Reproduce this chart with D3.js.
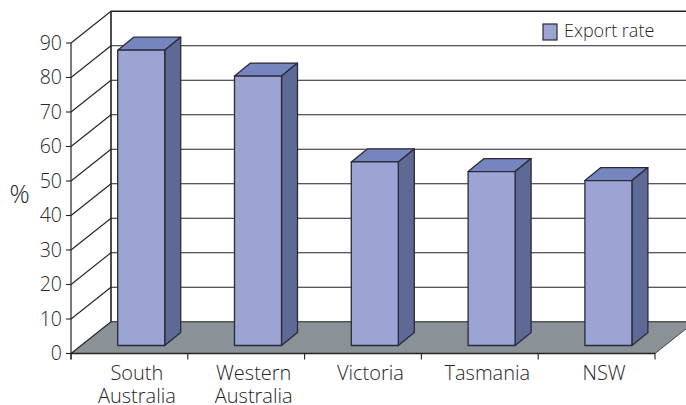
<!DOCTYPE html>
<html><head><meta charset="utf-8">
<script src="https://cdn.jsdelivr.net/npm/d3@7"></script>
<style>html,body{margin:0;padding:0;background:#fff;overflow:hidden}svg{display:block}text{font-family:"Open Sans",sans-serif;font-weight:300;fill:#262626}</style>
</head><body><svg id="c" width="686" height="405"></svg>
<script>
const categories = [["South","Australia"],["Western","Australia"],["Victoria"],["Tasmania"],["NSW"]];
const seriesName = "Export rate";
const values = [85.6, 78.1, 53.2, 50.4, 47.8];
const yTicks = [0,10,20,30,40,50,60,70,80,90];
const yLabel = "%";

(function(){
const W=686, left=71, right=655, y0=353.5, y90=43, dx=40, dy=-31.8;
const bdx=16, bdy=-13, ox=10.3, oy=-8;
const svg=d3.select("#c");
const x=d3.scaleBand().domain(d3.range(categories.length)).range([left,right]);
const y=d3.scaleLinear().domain([0,90]).range([y0,y90]);
const line="#222";

// floor
svg.append("path").attr("d",d3.line()([[left,y0],[right,y0],[right+dx,y0+dy],[left+dx,y0+dy]])+"Z").attr("fill","#8a9298");

// back and side wall grid
svg.selectAll(".bg").data(yTicks).join("line").attr("class","bg").attr("x1",left+dx).attr("x2",W+10)
  .attr("y1",d=>y(d)+dy).attr("y2",d=>y(d)+dy).attr("stroke",line).attr("stroke-width",d=>d==90?1.6:1.1);
svg.selectAll(".sg").data(yTicks).join("line").attr("class","sg").attr("x1",left).attr("x2",left+dx)
  .attr("y1",d=>y(d)).attr("y2",d=>y(d)+dy).attr("stroke",line).attr("stroke-width",1.1);
svg.append("line").attr("x1",left+dx).attr("x2",left+dx).attr("y1",y(90)+dy).attr("y2",y(0)+dy).attr("stroke",line).attr("stroke-width",1.6);
svg.append("line").attr("x1",right).attr("x2",right+dx).attr("y1",y0).attr("y2",y0+dy).attr("stroke",line).attr("stroke-width",0.8);

// front axes
svg.append("line").attr("x1",left).attr("x2",left).attr("y1",y(90)).attr("y2",y0+6).attr("stroke",line).attr("stroke-width",1.2);
svg.append("line").attr("x1",left).attr("x2",right).attr("y1",y0).attr("y2",y0).attr("stroke",line).attr("stroke-width",1.4);
svg.selectAll(".yt").data(yTicks).join("line").attr("class","yt").attr("x1",left-5).attr("x2",left).attr("y1",d=>y(d)).attr("y2",d=>y(d)).attr("stroke",line).attr("stroke-width",1.1);
svg.selectAll(".xt").data(d3.range(categories.length+1)).join("line").attr("class","xt")
  .attr("x1",i=>left+i*x.bandwidth()).attr("x2",i=>left+i*x.bandwidth()).attr("y1",y0).attr("y2",y0+6).attr("stroke",line).attr("stroke-width",1.1);

svg.selectAll(".yl").data(yTicks).join("text").attr("class","yl").attr("x",62).attr("y",d=>y(d)+6.5).attr("text-anchor","end").attr("font-size",19.5).text(d=>d);
svg.append("text").attr("x",19.5).attr("y",203).attr("text-anchor","middle").attr("font-size",25).text(yLabel);

// bars
const bw=47;
const g=svg.selectAll(".bar").data(values).join("g").attr("class","bar");
const bx=i=>x(i)+x.bandwidth()/2+ox-bw/2+1.5;
const base=y0+oy;
const unit=(y(0)-y(90))/90;
const vTop=v=>base-v*unit;
const pts=a=>a.map(p=>p.join(",")).join(" ");
const st=s=>s.attr("stroke","#2a2a3a").attr("stroke-width",1.3).attr("stroke-linejoin","round");
g.append("polygon").attr("points",(v,i)=>pts([[bx(i),vTop(v)],[bx(i)+bw,vTop(v)],[bx(i)+bw+bdx,vTop(v)+bdy],[bx(i)+bdx,vTop(v)+bdy]])).attr("fill","#7585bd").call(st);
g.append("polygon").attr("points",(v,i)=>pts([[bx(i)+bw,vTop(v)],[bx(i)+bw+bdx,vTop(v)+bdy],[bx(i)+bw+bdx,base+bdy],[bx(i)+bw,base]])).attr("fill","#5c6a95").call(st);
g.append("rect").attr("x",(v,i)=>bx(i)).attr("y",v=>vTop(v)).attr("width",bw).attr("height",v=>base-vTop(v)).attr("fill","#9ca4d3").call(st);

// category labels
const t=svg.selectAll(".cl").data(categories).join("text").attr("class","cl").attr("text-anchor","middle").attr("font-size",20);
t.each(function(c,i){
  c.forEach((s,k)=>d3.select(this).append("tspan").attr("x",x(i)+x.bandwidth()/2+7.5).attr("y",380+k*23).text(s));
});

// legend
svg.append("rect").attr("x",543).attr("y",24).attr("width",14).attr("height",16).attr("fill","#9ca4d3").attr("stroke","#2a2a3a").attr("stroke-width",1.2);
svg.append("text").attr("x",564).attr("y",37).attr("font-size",18).text(seriesName);
})();
</script></body></html>
